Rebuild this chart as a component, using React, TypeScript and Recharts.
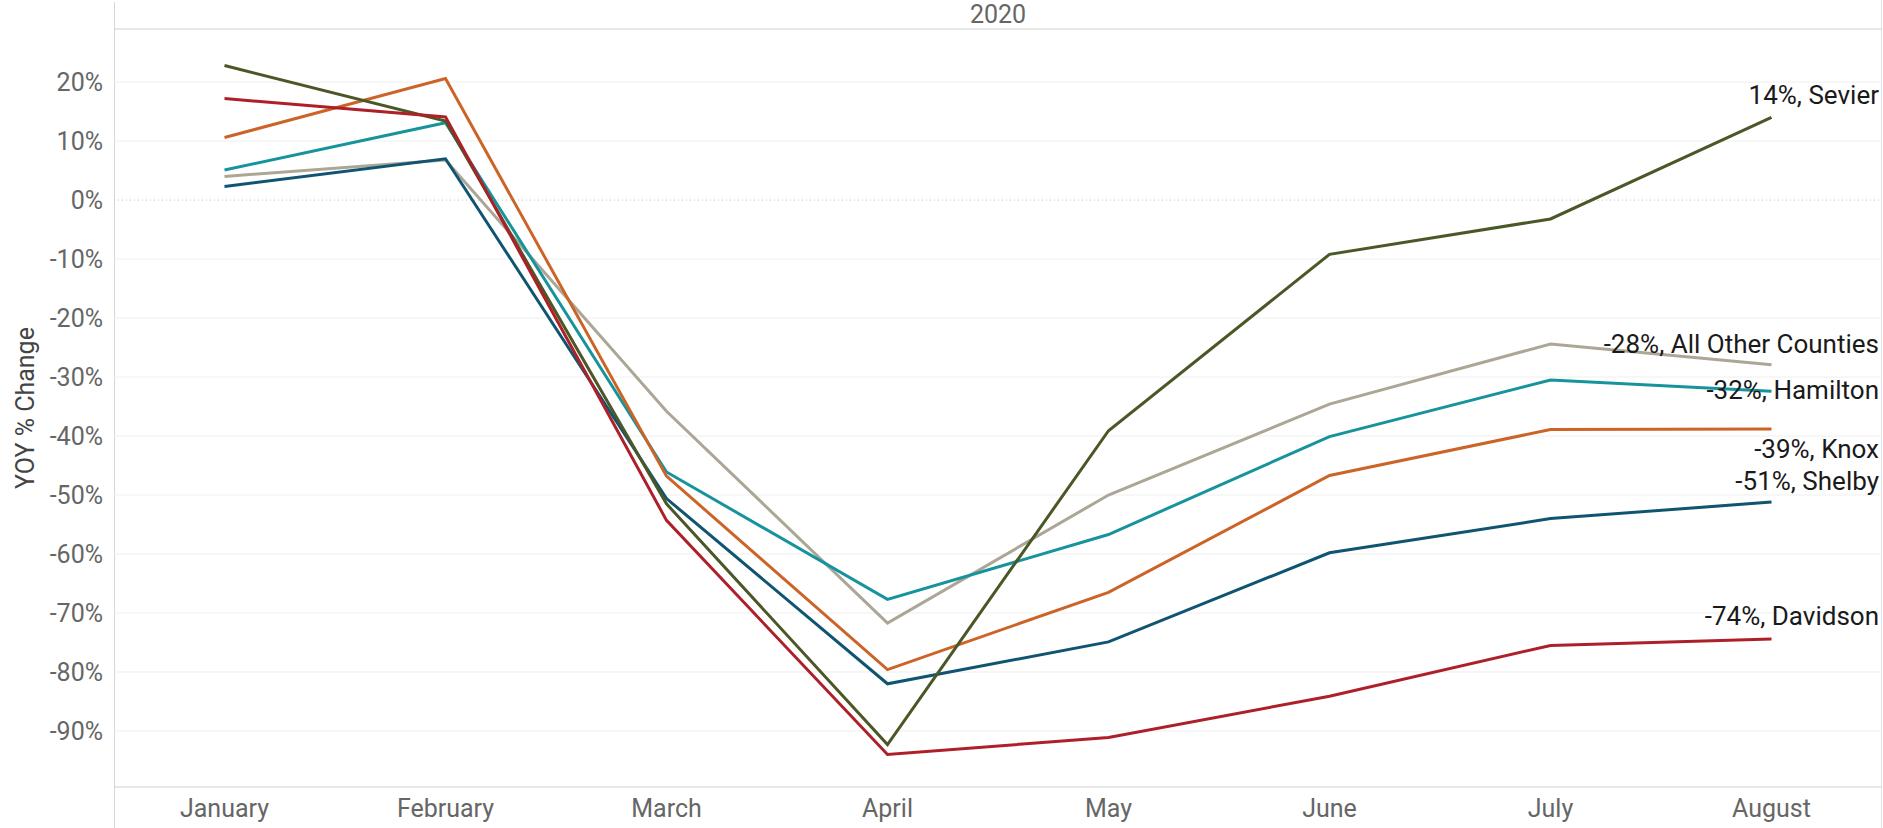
import { Line, LineChart, ReferenceLine, XAxis, YAxis } from 'recharts';

const WIDTH = 1883;
const HEIGHT = 828;

const MONTHS = ['January', 'February', 'March', 'April', 'May', 'June', 'July', 'August'];

// YOY % change by county
const ALL_OTHER = [4.0, 6.8, -35.8, -71.7, -50.0, -34.6, -24.4, -27.9];
const HAMILTON = [5.1, 13.1, -46.1, -67.7, -56.7, -40.1, -30.5, -32.4];
const KNOX = [10.6, 20.6, -46.8, -79.6, -66.5, -46.7, -38.9, -38.8];
const SHELBY = [2.3, 7.0, -50.6, -82.0, -74.9, -59.8, -54.0, -51.2];
const SEVIER = [22.8, 13.4, -51.5, -92.3, -39.1, -9.2, -3.2, 14.0];
const DAVIDSON = [17.2, 14.1, -54.3, -94.0, -91.1, -84.1, -75.5, -74.4];

const Y_TICKS = [20, 10, 0, -10, -20, -30, -40, -50, -60, -70, -80, -90];

const data = MONTHS.map((month, i) => ({
  month,
  'All Other Counties': ALL_OTHER[i],
  Hamilton: HAMILTON[i],
  Knox: KNOX[i],
  Shelby: SHELBY[i],
  Sevier: SEVIER[i],
  Davidson: DAVIDSON[i],
}));

const series = [
  { key: 'All Other Counties', color: '#aba696', labelDy: -12 },
  { key: 'Hamilton', color: '#17939e', labelDy: 8 },
  { key: 'Knox', color: '#cc6428', labelDy: 29 },
  { key: 'Shelby', color: '#0f5571', labelDy: -12 },
  { key: 'Sevier', color: '#4a5726', labelDy: -13 },
  { key: 'Davidson', color: '#ae2029', labelDy: -14 },
];

// half a month band on each side, so points sit in the middle of their band
const BAND_PAD = { left: 110.5, right: 110.5 };

const endLabel = (name: string, dy: number) => (props: any) => {
  const { y, value, index } = props;
  if (index !== MONTHS.length - 1) return null;
  return (
    <text
      key={name}
      x={WIDTH - 4}
      y={Number(y) + dy}
      textAnchor="end"
      fill="#1a1a1a"
      fontSize={26}
      fontFamily="Roboto"
    >
      {`${Math.round(Number(value))}%, ${name}`}
    </text>
  );
};

const App = () => {
  return (
    <div
      style={{
        position: 'absolute',
        left: 0,
        top: 0,
        width: WIDTH,
        height: HEIGHT,
        background: '#fff',
        fontFamily: 'Roboto',
      }}
    >
      <div style={{ position: 'absolute', left: 114, top: 2, width: 1, height: HEIGHT - 2, background: '#d6d6d6' }} />
      <div style={{ position: 'absolute', left: 1881, top: 0, width: 1, height: HEIGHT, background: '#e2e2e2' }} />
      <LineChart
        width={WIDTH}
        height={HEIGHT}
        data={data}
        margin={{ top: 0, right: 1, left: 0, bottom: 0 }}
        style={{ fontFamily: 'Roboto' }}
      >
        <XAxis
          xAxisId="top"
          orientation="top"
          dataKey="month"
          height={29}
          padding={BAND_PAD}
          tick={false}
          tickLine={false}
          axisLine={{ stroke: '#cfcfcf' }}
          label={{ value: '2020', position: 'center', fill: '#666', fontSize: 25 }}
        />
        <XAxis
          dataKey="month"
          height={41}
          padding={BAND_PAD}
          tickLine={false}
          tickSize={6}
          tickMargin={6}
          axisLine={{ stroke: '#d0d0d0' }}
          tick={{ fill: '#666', fontSize: 25 }}
        />
        <YAxis
          width={114}
          domain={[-99.5, 29]}
          ticks={Y_TICKS}
          interval={0}
          tickLine={false}
          tickSize={6}
          tickMargin={5}
          axisLine={false}
          tick={{ fill: '#666', fontSize: 25 }}
          tickFormatter={(v) => `${v}%`}
          label={{
            value: 'YOY % Change',
            angle: -90,
            position: 'insideLeft',
            offset: 25,
            fill: '#444',
            fontSize: 25,
            style: { textAnchor: 'middle' },
          }}
        />
        {Y_TICKS.filter((t) => t !== 0).map((t) => (
          <ReferenceLine key={t} y={t} stroke="#efefef" strokeWidth={1} />
        ))}
        <ReferenceLine y={0} stroke="#bdbdbd" strokeDasharray="1 3" strokeWidth={1} />
        {series.map((s) => (
          <Line
            key={s.key}
            type="linear"
            dataKey={s.key}
            stroke={s.color}
            strokeWidth={3}
            dot={false}
            activeDot={false}
            isAnimationActive={false}
            label={endLabel(s.key, s.labelDy)}
          />
        ))}
      </LineChart>
    </div>
  );
};

export default App;
